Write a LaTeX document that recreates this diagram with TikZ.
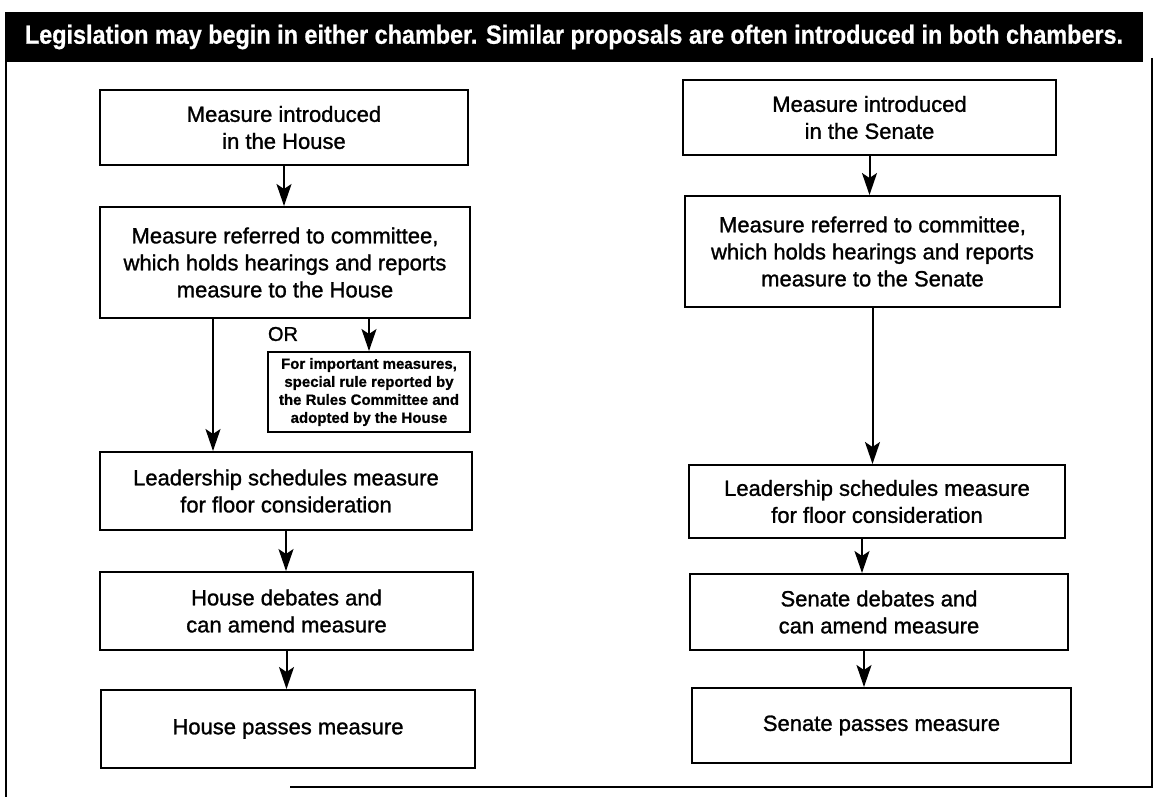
\documentclass[tikz,border=0pt]{standalone}
\usepackage{fontspec}
\setmainfont[FakeBold=0.8]{Liberation Sans}
\newfontfamily\heavyfont[FakeBold=1.2]{Liberation Sans}
\usetikzlibrary{arrows.meta}
\begin{document}
\begin{tikzpicture}[x=1pt,y=-1pt,
  stepbox/.style={draw, line width=2pt, inner sep=0pt, align=center,
    font=\heavyfont\fontsize{22}{27}\selectfont},
  smallbox/.style={draw, line width=2pt, inner sep=0pt, align=center,
    font=\bfseries\fontsize{15}{18}\selectfont},
  arr/.style={line width=2pt, -{Stealth[length=22pt,width=15pt,inset=5pt]}},
  frame/.style={line width=1.6pt}]
\useasboundingbox (0,0) rectangle (1163,797);

% banner
\node[fill=black, text=white, inner sep=0pt, minimum width=1138pt, minimum height=50pt]
  (banner) at (574,37)
  {\resizebox{1098pt}{19pt}{\bfseries\fontsize{24}{24}\selectfont Legislation may begin in either chamber. Similar proposals are often introduced in both chambers.}};

% frame
\coordinate (fl1) at (6,62);
\coordinate (fl2) at (6,797);
\coordinate (fr1) at (1152,58);
\coordinate (fr2) at (1152,787);
\coordinate (fb) at (290,787);
\draw[frame] (fl1) -- (fl2);
\draw[frame] (fr1) -- (fr2) -- (fb);

% House column
\node[stepbox, minimum width=368pt, minimum height=75pt] (h1) at (284,127.5)
  {Measure introduced\\in the House};
\node[stepbox, minimum width=370pt, minimum height=111pt] (h2) at (285,262.5)
  {Measure referred to committee,\\which holds hearings and reports\\measure to the House};
\node[smallbox, minimum width=202pt, minimum height=80pt] (h3) at (369,392)
  {For important measures,\\special rule reported by\\the Rules Committee and\\adopted by the House};
\node[font=\heavyfont\fontsize{20}{20}\selectfont, inner sep=0pt] (or) at (283,334) {OR};
\node[stepbox, minimum width=372pt, minimum height=78pt] (h4) at (286,491)
  {Leadership schedules measure\\for floor consideration};
\node[stepbox, minimum width=373pt, minimum height=78pt] (h5) at (286.5,611)
  {House debates and\\can amend measure};
\node[stepbox, minimum width=374pt, minimum height=78pt] (h6) at (288,729)
  {House passes measure};

% Senate column
\node[stepbox, minimum width=373pt, minimum height=75pt] (s1) at (869.5,117.5)
  {Measure introduced\\in the Senate};
\node[stepbox, minimum width=375pt, minimum height=111pt] (s2) at (872.5,251.5)
  {Measure referred to committee,\\which holds hearings and reports\\measure to the Senate};
\node[stepbox, minimum width=376pt, minimum height=73pt] (s3) at (877,501.5)
  {Leadership schedules measure\\for floor consideration};
\node[stepbox, minimum width=378pt, minimum height=76pt] (s4) at (879,612)
  {Senate debates and\\can amend measure};
\node[stepbox, minimum width=379pt, minimum height=75pt] (s5) at (881.5,725.5)
  {Senate passes measure};

% House arrows
\draw[arr] (h1.south) -- (h1.south |- h2.north);
\draw[arr] ([xshift=-72pt]h2.south) -- ([xshift=-72pt]h2.south |- h4.north);
\draw[arr] (h3.north |- h2.south) -- (h3.north);
\draw[arr] (h4.south) -- (h4.south |- h5.north);
\draw[arr] (h5.south) -- (h5.south |- h6.north);

% Senate arrows
\draw[arr] (s1.south) -- (s1.south |- s2.north);
\draw[arr] (s2.south) -- (s2.south |- s3.north);
\draw[arr] ([xshift=-15pt]s3.south) -- ([xshift=-15pt]s3.south |- s4.north);
\draw[arr] ([xshift=-15pt]s4.south) -- ([xshift=-15pt]s4.south |- s5.north);
\end{tikzpicture}
\end{document}
